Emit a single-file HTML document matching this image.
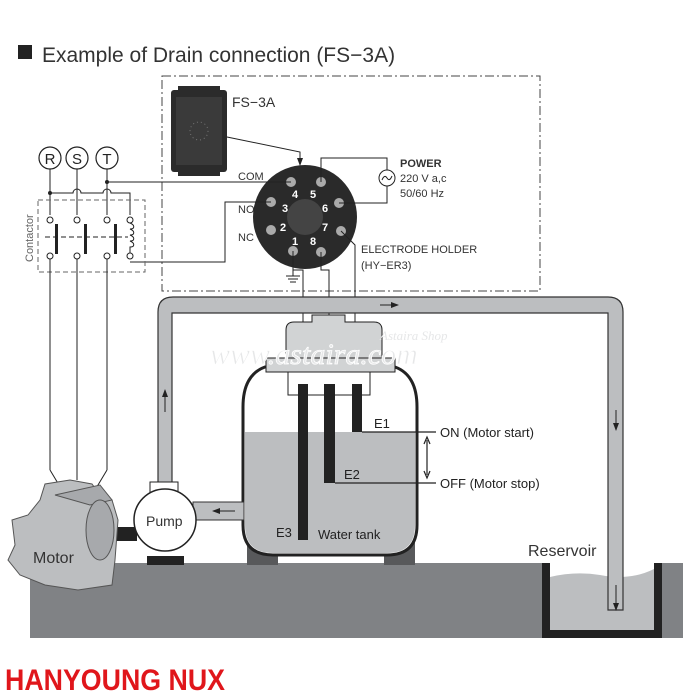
<!DOCTYPE html>
<html><head><meta charset="utf-8"><style>
html,body{margin:0;padding:0;background:#fff;width:700px;height:700px;overflow:hidden}
svg{display:block;font-family:"Liberation Sans",Arial,sans-serif}
</style></head><body>
<svg width="700" height="700" viewBox="0 0 700 700" xmlns="http://www.w3.org/2000/svg">
<defs>
<marker id="ah" markerWidth="8" markerHeight="8" refX="7" refY="4" orient="auto" markerUnits="userSpaceOnUse"><path d="M0,1 L8,4 L0,7 z" fill="#222"/></marker>
</defs>
<!-- title -->
<rect x="18" y="45" width="14" height="14" fill="#222"/>
<text x="42" y="62" font-size="21" fill="#333">Example of Drain connection (FS−3A)</text>

<!-- dash-dot box -->
<rect x="162" y="76" width="378" height="215" fill="none" stroke="#444" stroke-width="1" stroke-dasharray="9,3,2,3"/>

<!-- FS-3A device -->
<rect x="171" y="90" width="56" height="82" rx="3" fill="#2b2b2b"/>
<rect x="178" y="86" width="42" height="6" fill="#2b2b2b"/>
<rect x="178" y="170" width="42" height="6" fill="#2b2b2b"/>
<rect x="176" y="97" width="46" height="68" fill="#3a3a3a"/>
<circle cx="199" cy="131" r="9" fill="none" stroke="#777" stroke-width="1" stroke-dasharray="1,3"/>
<text x="232" y="107" font-size="14" fill="#333">FS−3A</text>
<polyline points="227,137 300,152 300,165" fill="none" stroke="#222" stroke-width="1" marker-end="url(#ah)"/>

<!-- socket -->
<circle cx="305" cy="217" r="52" fill="#2a2a2a"/>
<circle cx="305" cy="217" r="18" fill="#444"/>
<g fill="#aaa">
<circle cx="291" cy="182" r="5"/><circle cx="321" cy="182" r="5"/>
<circle cx="271" cy="202" r="5"/><circle cx="339" cy="203" r="5"/>
<circle cx="271" cy="230" r="5"/><circle cx="341" cy="231" r="5"/>
<circle cx="293" cy="251" r="5"/><circle cx="321" cy="252" r="5"/>
</g>
<g fill="#fff" font-size="11" font-weight="bold">
<text x="292" y="198">4</text><text x="310" y="198">5</text>
<text x="282" y="212">3</text><text x="322" y="212">6</text>
<text x="280" y="231">2</text><text x="322" y="231">7</text>
<text x="292" y="245">1</text><text x="310" y="245">8</text>
</g>
<g font-size="11" fill="#333">
<text x="238" y="180">COM</text><text x="238" y="213">NO</text><text x="238" y="241">NC</text>
<text x="400" y="167" font-weight="bold">POWER</text>
<text x="400" y="182">220 V a,c</text>
<text x="400" y="197">50/60 Hz</text>
<text x="361" y="253">ELECTRODE HOLDER</text>
<text x="361" y="269">(HY−ER3)</text>
</g>
<g fill="none" stroke="#222" stroke-width="1">
<polyline points="321,182 321,158 387,158 387,170"/>
<circle cx="387" cy="178" r="8" fill="#fff"/>
<path d="M382,180 q2.5,-6 5,-2 q2.5,4 5,-2"/>
<polyline points="387,186 387,203 339,203"/>
<line x1="291" y1="182" x2="106" y2="182"/>
<polyline points="271,202 225,202 225,262 130,262"/>
<polyline points="293,251 293,270 303,270 303,384"/>
<line x1="293" y1="270" x2="293" y2="276"/>
<line x1="286" y1="276" x2="300" y2="276"/><line x1="288" y1="279" x2="298" y2="279"/><line x1="290" y1="282" x2="296" y2="282"/>
<polyline points="321,252 321,270 329,270 329,384"/>
<polyline points="341,231 355,245 355,384"/>
</g>

<!-- RST -->
<g fill="#fff" stroke="#222" stroke-width="1.2">
<circle cx="50" cy="158" r="11"/><circle cx="77" cy="158" r="11"/><circle cx="107" cy="158" r="11"/>
</g>
<g font-size="15" fill="#222" text-anchor="middle">
<text x="50" y="164">R</text><text x="77" y="164">S</text><text x="107" y="164">T</text>
</g>
<g fill="none" stroke="#222" stroke-width="1">
<line x1="50" y1="169" x2="50" y2="215"/>
<line x1="77" y1="169" x2="77" y2="215"/>
<line x1="107" y1="169" x2="107" y2="215"/>
<path d="M50,193 L73,193 a4,4 0 0 1 8,0 L103,193 a4,4 0 0 1 8,0 L130,193 L130,215"/>
<rect x="38" y="200" width="107" height="72" stroke="#666" stroke-dasharray="5,3"/>
<line x1="45" y1="237" x2="128" y2="237" stroke-dasharray="5,3"/>
<circle cx="50" cy="220" r="3" fill="#fff"/><circle cx="77" cy="220" r="3" fill="#fff"/><circle cx="107" cy="220" r="3" fill="#fff"/>
<circle cx="50" cy="256" r="3" fill="#fff"/><circle cx="77" cy="256" r="3" fill="#fff"/><circle cx="107" cy="256" r="3" fill="#fff"/>
<circle cx="130" cy="220" r="3" fill="#fff"/><circle cx="130" cy="256" r="3" fill="#fff"/>
<path d="M130,223 c5,2 5,6 0,6 c5,2 5,6 0,6 c5,2 5,6 0,6 c5,2 5,6 0,6 L130,253"/>
<line x1="50" y1="259" x2="50" y2="470"/><line x1="77" y1="259" x2="77" y2="480"/><line x1="107" y1="259" x2="107" y2="470"/>
<polyline points="50,470 62,490"/><polyline points="107,470 95,490"/>
</g>
<g fill="#222"><rect x="55" y="224" width="3" height="30"/><rect x="84" y="224" width="3" height="30"/><rect x="114" y="224" width="3" height="30"/></g>
<circle cx="50" cy="193" r="2" fill="#222"/><circle cx="107" cy="182" r="2" fill="#222"/>
<text transform="translate(33,262) rotate(-90)" font-size="11" fill="#666">Contactor</text>

<!-- ground -->
<rect x="30" y="563" width="653" height="75" fill="#808285"/>
<!-- reservoir -->
<rect x="542" y="563" width="120" height="75" fill="#222"/>
<rect x="550" y="563" width="104" height="67" fill="#fff"/>
<path d="M550,577 q25,-6 50,-2 q30,6 54,-6 L654,630 L550,630 z" fill="#bcbec0"/>
<text x="528" y="556" font-size="16" fill="#333">Reservoir</text>

<!-- pipe -->
<path d="M158,484 L158,312 q0,-15 15,-15 L608,297 q15,0 15,15 L623,610 L608,610 L608,313 L172,313 L172,484 z" fill="#bcbec0" stroke="#333" stroke-width="1.2"/>
<line x1="380" y1="305" x2="398" y2="305" stroke="#222" marker-end="url(#ah)"/>
<line x1="165" y1="412" x2="165" y2="390" stroke="#222" marker-end="url(#ah)"/>
<line x1="616" y1="410" x2="616" y2="430" stroke="#222" marker-end="url(#ah)"/>
<line x1="616" y1="585" x2="616" y2="610" stroke="#222" marker-end="url(#ah)"/>

<!-- tank -->
<rect x="247" y="540" width="31" height="25" fill="#58595b"/>
<rect x="384" y="540" width="31" height="25" fill="#58595b"/>
<path d="M265,367 L395,367 q22,8 22,40 L417,525 q0,30 -30,30 L273,555 q-30,0 -30,-30 L243,407 q0,-32 22,-40 z" fill="#fff" stroke="#222" stroke-width="3"/>
<path d="M245,432 L415,432 L415,525 q0,28 -28,28 L273,553 q-28,0 -28,-28 z" fill="#bcbec0"/>
<rect x="288" y="372" width="82" height="23" fill="#fff" stroke="#222"/>
<rect x="266" y="358" width="129" height="14" fill="#d1d3d4" stroke="#222"/>
<path d="M286,358 L286,330 q0,-8 8,-8 L312,322 L312,315 L345,315 L345,322 L374,322 q8,0 8,8 L382,358 z" fill="#d1d3d4" stroke="#222"/>
<rect x="298" y="384" width="10" height="156" fill="#222"/>
<rect x="324" y="384" width="11" height="99" fill="#222"/>
<rect x="352" y="384" width="10" height="48" fill="#222"/>
<g stroke="#222" stroke-width="1.2" fill="none">
<line x1="362" y1="432" x2="436" y2="432"/>
<line x1="335" y1="483" x2="436" y2="483"/>
<line x1="427" y1="440" x2="427" y2="475"/>
<path d="M424,444 L427,437 L430,444 M424,471 L427,478 L430,471"/>
</g>
<g font-size="13" fill="#222">
<text x="374" y="428">E1</text><text x="344" y="479">E2</text><text x="276" y="537">E3</text>
<text x="318" y="539">Water tank</text>
<text x="440" y="437">ON (Motor start)</text>
<text x="440" y="488">OFF (Motor stop)</text>
</g>

<!-- outlet to pump -->
<rect x="193" y="502" width="51" height="18" fill="#bcbec0" stroke="#333"/>
<line x1="235" y1="511" x2="213" y2="511" stroke="#222" marker-end="url(#ah)"/>
<!-- shaft -->
<rect x="112" y="527" width="25" height="14" fill="#222"/>
<!-- pump -->
<rect x="147" y="556" width="37" height="9" fill="#222"/>
<rect x="150" y="482" width="28" height="12" fill="#fff" stroke="#222"/>
<circle cx="165" cy="520" r="31" fill="#fff" stroke="#222" stroke-width="1.5"/>
<text x="146" y="526" font-size="14" fill="#333">Pump</text>

<!-- motor -->
<path d="M12,520 L28,515 L40,500 L45,484 L70,480 L92,484 L100,495 L112,500 L118,520 L115,560 L112,585 L78,590 L45,585 L20,575 L8,560 L15,545 z" fill="#bcbec0" stroke="#555"/>
<path d="M55,495 L100,485 L112,500 L90,505 z" fill="#a7a9ac" stroke="#555"/>
<ellipse cx="100" cy="530" rx="14" ry="30" fill="#a7a9ac" stroke="#555"/>
<text x="33" y="563" font-size="16" fill="#333">Motor</text>

<!-- watermark -->
<text x="210" y="364" font-size="30" font-style="italic" fill="#e6e7e8" stroke="#fff" stroke-width="0.8" font-family="Liberation Serif,serif" transform="translate(0,0) scale(1,1)">www.astaira.com</text>
<text x="380" y="340" font-size="13" font-style="italic" fill="#e6e7e8" font-family="Liberation Serif,serif">Astaira Shop</text>

<!-- logo -->
<text x="5" y="690" font-size="30" font-weight="bold" fill="#e0161b" font-family="Liberation Sans Narrow,Liberation Sans,sans-serif" textLength="220" lengthAdjust="spacingAndGlyphs">HANYOUNG NUX</text>
</svg>
</body></html>
